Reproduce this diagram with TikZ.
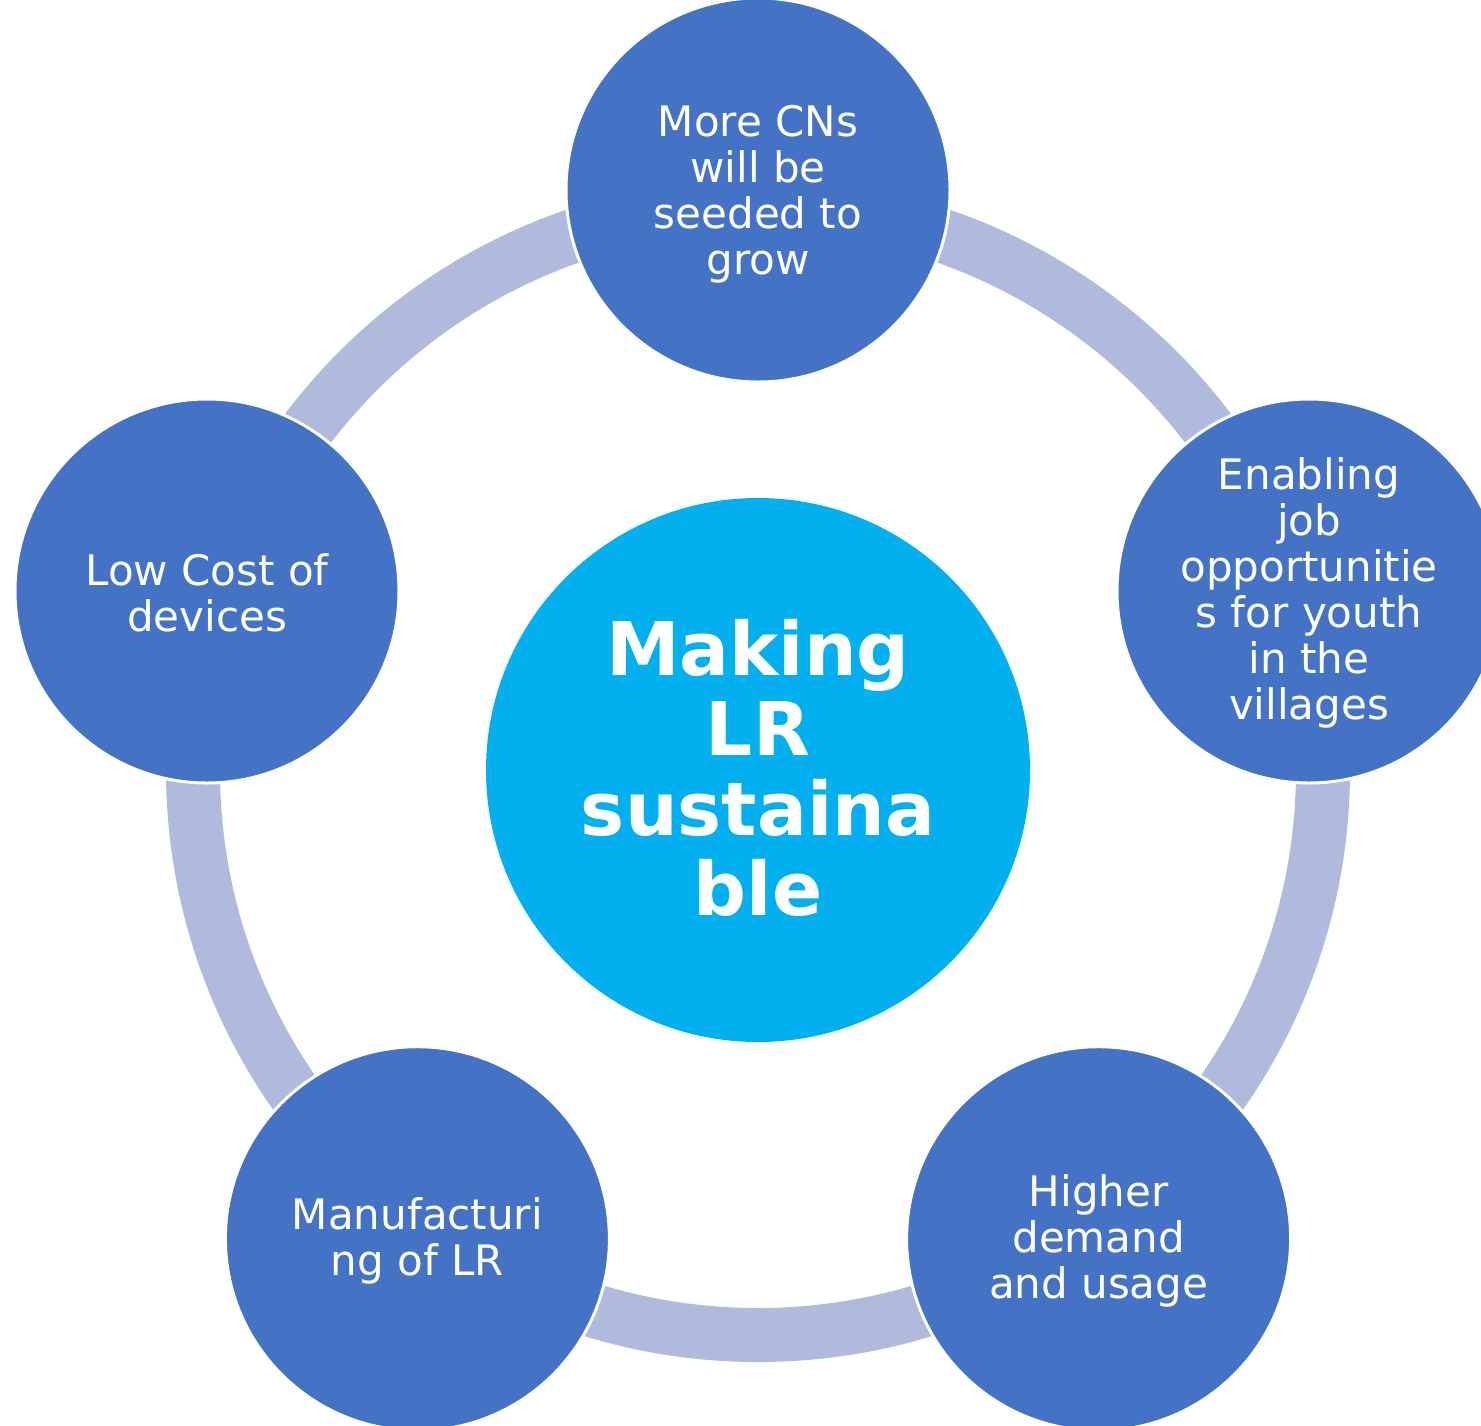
\documentclass[tikz,border=0pt]{standalone}
\usepackage{fontspec}
\setmainfont{DejaVu Sans}
\definecolor{ringc}{HTML}{B0BADC}
\definecolor{nodeblue}{HTML}{4472C4}
\definecolor{centerc}{HTML}{03B0EF}
\tikzset{
  outer/.style={circle, fill=nodeblue, draw=white, line width=1.5pt, minimum size=192pt, inner sep=0pt},
  hub/.style={circle, fill=centerc, minimum size=272pt, inner sep=0pt},
  hublbl/.style={text=white, align=center, font=\fontsize{37}{40}\selectfont\bfseries},
  lbl/.style={text=white, align=center, font=\fontsize{21}{23}\selectfont},
  ring/.style={draw=ringc, line width=27pt}
}
\begin{document}
\begin{tikzpicture}[x=0.5pt,y=-0.5pt]
\useasboundingbox (0,0) rectangle (1481,1425);
\coordinate (c) at (758,770);
\draw[ring] (c) circle (282.5pt);
\node[hub] (hub) at (c) {};
\node[hublbl] (hubtext) at ([yshift=1pt]hub.center) {Making\\LR\\sustaina\\ble};
\node[outer] (n1) at (758,190) {};
\node[outer] (n2) at (1309,591) {};
\node[outer] (n3) at (1098.6,1238.7) {};
\node[outer] (n4) at (417.4,1238.7) {};
\node[outer] (n5) at (207,591) {};
\node[lbl] (t1) at ([yshift=-2pt]n1.center) {More CNs\\will be\\seeded to\\grow};
\node[lbl] (t2) at ([yshift=-1pt]n2.center) {Enabling\\job\\opportunitie\\s for youth\\in the\\villages};
\node[lbl] (t3) at ([yshift=-1pt]n3.center) {Higher\\demand\\and usage};
\node[lbl] (t4) at ([yshift=-1pt]n4.center) {Manufacturi\\ng of LR};
\node[lbl] (t5) at ([yshift=-1pt]n5.center) {Low Cost of\\devices};
\end{tikzpicture}
\end{document}
